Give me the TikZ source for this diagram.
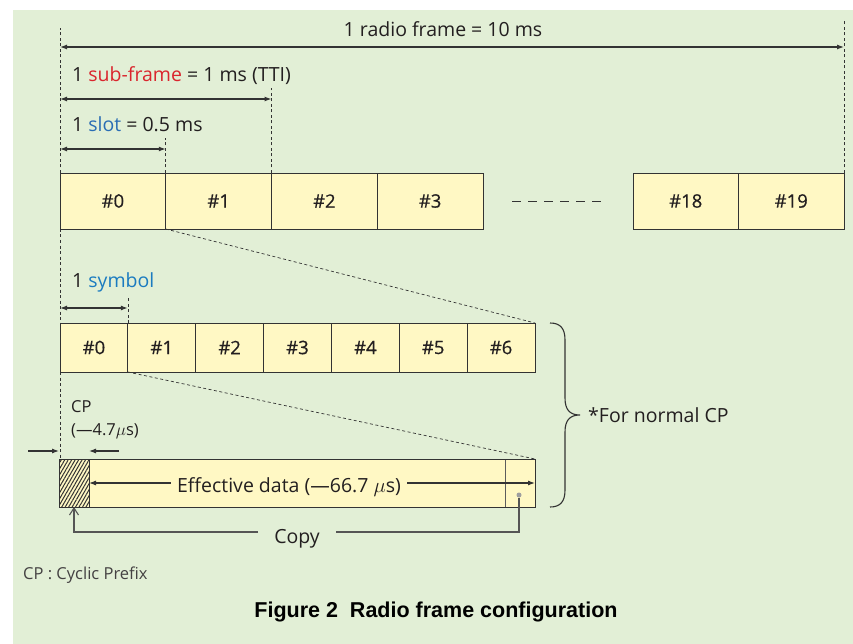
\documentclass[tikz,border=0pt]{standalone}
\usepackage{fontspec}
\setmainfont{Open Sans}
\newfontfamily\boxfont{Open Sans}[FakeBold=0.6]
\newfontfamily\titlefont{Liberation Sans}
\usetikzlibrary{arrows.meta,patterns.meta}

\definecolor{bgreen}{HTML}{E2EFD6}
\definecolor{boxy}{HTML}{FFF8C4}
\definecolor{linec}{HTML}{333333}
\definecolor{textc}{HTML}{231F20}
\definecolor{subred}{HTML}{DA252D}
\definecolor{slotblue}{HTML}{2A6DB4}
\definecolor{symblue}{HTML}{1B7BC0}
\definecolor{copyc}{HTML}{555555}

\tikzset{
  lbl/.style={inner sep=0pt, text=textc, font=\fontsize{19.5}{22}\selectfont},
  small/.style={inner sep=0pt, text=textc, font=\fontsize{16.5}{19}\selectfont},
  frm/.style={draw=linec, fill=boxy, line width=0.9pt, inner sep=0pt, outer sep=0pt,
    anchor=north west, minimum width=105.75pt, minimum height=56pt,
    text=textc, font=\boxfont\fontsize{18.5}{20}\selectfont},
  sym/.style={frm, minimum width=67.86pt, minimum height=49pt},
  guide/.style={draw=linec, line width=0.7pt, dash pattern=on 3pt off 2.5pt},
  dim/.style={draw=linec, line width=1.2pt, {Latex[length=7pt,width=5pt]}-{Latex[length=7pt,width=5pt]}},
  single/.style={draw=linec, line width=1.1pt, -{Latex[length=7pt,width=5pt]}},
  copyline/.style={draw=copyc, line width=1.1pt},
}

\begin{document}
\begin{tikzpicture}[x=1pt, y=-1pt]
  % canvas
  \useasboundingbox (0,0) rectangle (853,644);
  \fill[white] (0,0) rectangle (853,644);
  \fill[bgreen] (13,10) rectangle (853,644);

  % ---- radio frame: 20 slots ----
  \node[frm] (f0) at (60,173) {\#0};
  \node[frm] (f1) at (f0.north east) {\#1};
  \node[frm] (f2) at (f1.north east) {\#2};
  \node[frm] (f3) at (f2.north east) {\#3};
  \node[frm, minimum width=105.5pt] (f18) at (633,173) {\#18};
  \node[frm, minimum width=105.5pt] (f19) at (f18.north east) {\#19};
  \draw[draw=linec, line width=0.9pt, dash pattern=on 9pt off 7pt]
    ([xshift=29pt]f3.east) -- ([xshift=-31pt]f18.west);

  % ---- one slot: 7 symbols ----
  \node[sym] (s0) at (60,323) {\#0};
  \node[sym] (s1) at (s0.north east) {\#1};
  \node[sym] (s2) at (s1.north east) {\#2};
  \node[sym] (s3) at (s2.north east) {\#3};
  \node[sym] (s4) at (s3.north east) {\#4};
  \node[sym] (s5) at (s4.north east) {\#5};
  \node[sym] (s6) at (s5.north east) {\#6};

  % ---- one symbol: cyclic prefix + effective data ----
  \node[frm, minimum width=30pt, minimum height=48pt,
        postaction={pattern={Lines[angle=60,distance=3pt,line width=1pt]}, pattern color=linec}]
        (hatch) at (59,459) {};
  \node[frm, minimum width=416pt, minimum height=48pt] (data) at (hatch.north east) {};
  \node[frm, minimum width=30pt, minimum height=48pt, draw=linec!80] (tail) at (data.north east) {};
  \draw[linec, line width=0.9pt] (hatch.north west) rectangle (tail.south east);
  \draw[linec, line width=0.9pt] (hatch.north east) -- (hatch.south east);

  % ---- guide lines ----
  \draw[guide] (f0.north west) -- ++(0,-145);
  \draw[guide] (f19.north east) -- ++(0,-153);
  \draw[guide] (f1.north east) -- ++(0,-85);
  \draw[guide] (f0.north east) -- ++(0,-35);
  \draw[guide] (f0.south west) -- (s0.north west);
  \draw[guide] (s0.north east) -- ++(0,-26);
  \draw[guide] (s0.south west) -- (s0.south west |- hatch.north);
  \draw[guide] (f0.south east) -- (s6.north east);
  \draw[guide] (s0.south east) -- (tail.north east);

  % ---- dimension arrows and labels ----
  \coordinate (rfy) at (0,47);
  \coordinate (sfy) at (0,99);
  \coordinate (sly) at (0,149);
  \coordinate (syy) at (0,308);
  \draw[dim] (f0.west |- rfy) -- (f19.east |- rfy);
  \draw[dim] (f0.west |- sfy) -- (f1.east |- sfy);
  \draw[dim] (f0.west |- sly) -- (f0.east |- sly);
  \draw[dim] (s0.west |- syy) -- (s0.east |- syy);

  \node[lbl, anchor=base] (rf) at (443,37) {1 radio frame = 10 ms};
  \node[lbl, anchor=base west] (sf) at (72,82) {1 \textcolor{subred}{sub-frame} = 1 ms (TTI)};
  \node[lbl, anchor=base west] (sl) at (72,132) {1 \textcolor{slotblue}{slot} = 0.5 ms};
  \node[lbl, anchor=base west] (sy) at (72,287) {1 \textcolor{symblue}{symbol}};

  % ---- CP width ----
  \node[small, anchor=base west] (cp1) at (71,412) {CP};
  \node[small, anchor=base west] (cp2) at (71,435) {(—4.7$\mu$s)};
  \coordinate (cpL) at (28,451);
  \coordinate (cpR) at (119,451);
  \draw[single] (cpL) -- (hatch.west |- cpL);
  \draw[single] (cpR) -- (hatch.east |- cpR);

  % ---- effective data ----
  \node[lbl, anchor=base, inner xsep=6pt] (eff) at (289,492) {Effective data (—66.7 $\mu$s)};
  \coordinate (ea) at (0,483);
  \draw[single] (eff.west |- ea) -- (hatch.east |- ea);
  \draw[single] (eff.east |- ea) -- (tail.east |- ea);

  % ---- copy of the tail into the prefix ----
  \node[circle, fill=gray!75, inner sep=0pt, minimum size=5pt] (dot) at (519,495) {};
  \node[lbl, anchor=base, inner xsep=16pt] (copy) at (297,543) {Copy};
  \coordinate (cy) at (0,532);
  \draw[copyline] (dot) |- (copy.east |- cy);
  \draw[copyline, -{Straight Barb[length=7pt,width=9pt]}] (copy.west |- cy) -| (hatch.south);

  % ---- brace ----
  \draw[linec, line width=1.1pt]
    (550,323) .. controls (560,323) and (565,328) .. (565,340)
    -- (565,398) .. controls (565,410) and (570,415) .. (580,415)
    .. controls (570,415) and (565,420) .. (565,432)
    -- (565,490) .. controls (565,502) and (560,507) .. (550,507);
  \node[lbl, anchor=base west] (ncp) at (588,422) {*For normal CP};

  % ---- footnote and caption ----
  \node[inner sep=0pt, anchor=base west, text=textc!85, font=\fontsize{16.5}{18}\selectfont] (note) at (23,579) {CP : Cyclic Prefix};
  \node[inner sep=0pt, anchor=base, text=black, font=\titlefont\bfseries\fontsize{21.5}{24}\selectfont] (title) at (436,617) {Figure 2\ \ Radio frame configuration};
\end{tikzpicture}
\end{document}
